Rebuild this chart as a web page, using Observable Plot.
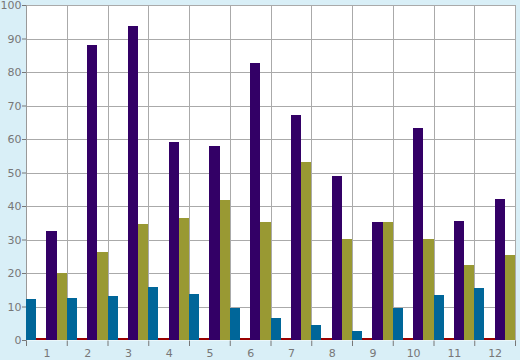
<!DOCTYPE html>
<html><head><meta charset="utf-8">
<script src="https://cdn.jsdelivr.net/npm/d3@7"></script>
<script src="https://cdn.jsdelivr.net/npm/@observablehq/plot@0.6"></script>
<style>html,body{margin:0;padding:0;background:#d9eff7}</style>
</head><body><div id="chart"></div>
<script>
const months = ["1","2","3","4","5","6","7","8","9","10","11","12"];
const seriesNames = ["Series A","Series B","Series C","Series D"];
const seriesColors = ["#006699","#990000","#330066","#999933"];
const seriesAValues = [12.1, 12.5, 13.1, 15.8, 13.7, 9.6, 6.6, 4.5, 2.7, 9.6, 13.4, 15.5];
const seriesBValues = [0.5, 0.5, 0.5, 0.5, 0.5, 0.5, 0.5, 0.5, 0.5, 0.5, 0.5, 0.5];
const seriesCValues = [32.5, 88.0, 93.7, 59.1, 57.9, 82.7, 67.2, 49.0, 35.2, 63.3, 35.5, 42.1];
const seriesDValues = [19.9, 26.3, 34.6, 36.4, 41.8, 35.2, 53.1, 30.1, 35.2, 30.1, 22.4, 25.4];
const yTicks = [0,10,20,30,40,50,60,70,80,90,100];

const valuesBySeries = [seriesAValues, seriesBValues, seriesCValues, seriesDValues];
const data = [];
months.forEach((m, i) => seriesNames.forEach((s, j) => {
  data.push({group: i, slot: j, series: s, value: valuesBySeries[j][i]});
}));

const chart = Plot.plot({
  width: 520,
  height: 360,
  marginLeft: 26,
  marginRight: 5,
  marginTop: 5,
  marginBottom: 20,
  style: {fontFamily: "DejaVu Sans", fontSize: "11px", color: "#777", background: "transparent"},
  x: {domain: [0, 12], ticks: d3.range(13), tickFormat: () => "", tickSize: 6, label: null},
  y: {domain: [0, 100], ticks: yTicks, tickSize: 4, tickPadding: 1, label: null},
  color: {type: "ordinal", domain: seriesNames, range: seriesColors},
  marks: [
    Plot.frame({fill: "white", stroke: null}),
    Plot.ruleY(yTicks.filter(v => v > 0), {stroke: "#aaa", shapeRendering: "crispEdges"}),
    Plot.ruleX(d3.range(1, 13), {stroke: "#aaa", shapeRendering: "crispEdges"}),
    Plot.ruleX([0], {stroke: "#999", shapeRendering: "crispEdges"}),
    Plot.rectY(data, {
      x1: d => d.group + d.slot / 4,
      x2: d => d.group + (d.slot + 1) / 4,
      y: "value",
      fill: "series",
      shapeRendering: "crispEdges"
    }),
    Plot.text(months, {x: (d, i) => i + 0.5, y: 0, dy: 13, text: d => d, fill: "#777"})
  ]
});
document.getElementById("chart").appendChild(chart);
</script>
</body></html>
